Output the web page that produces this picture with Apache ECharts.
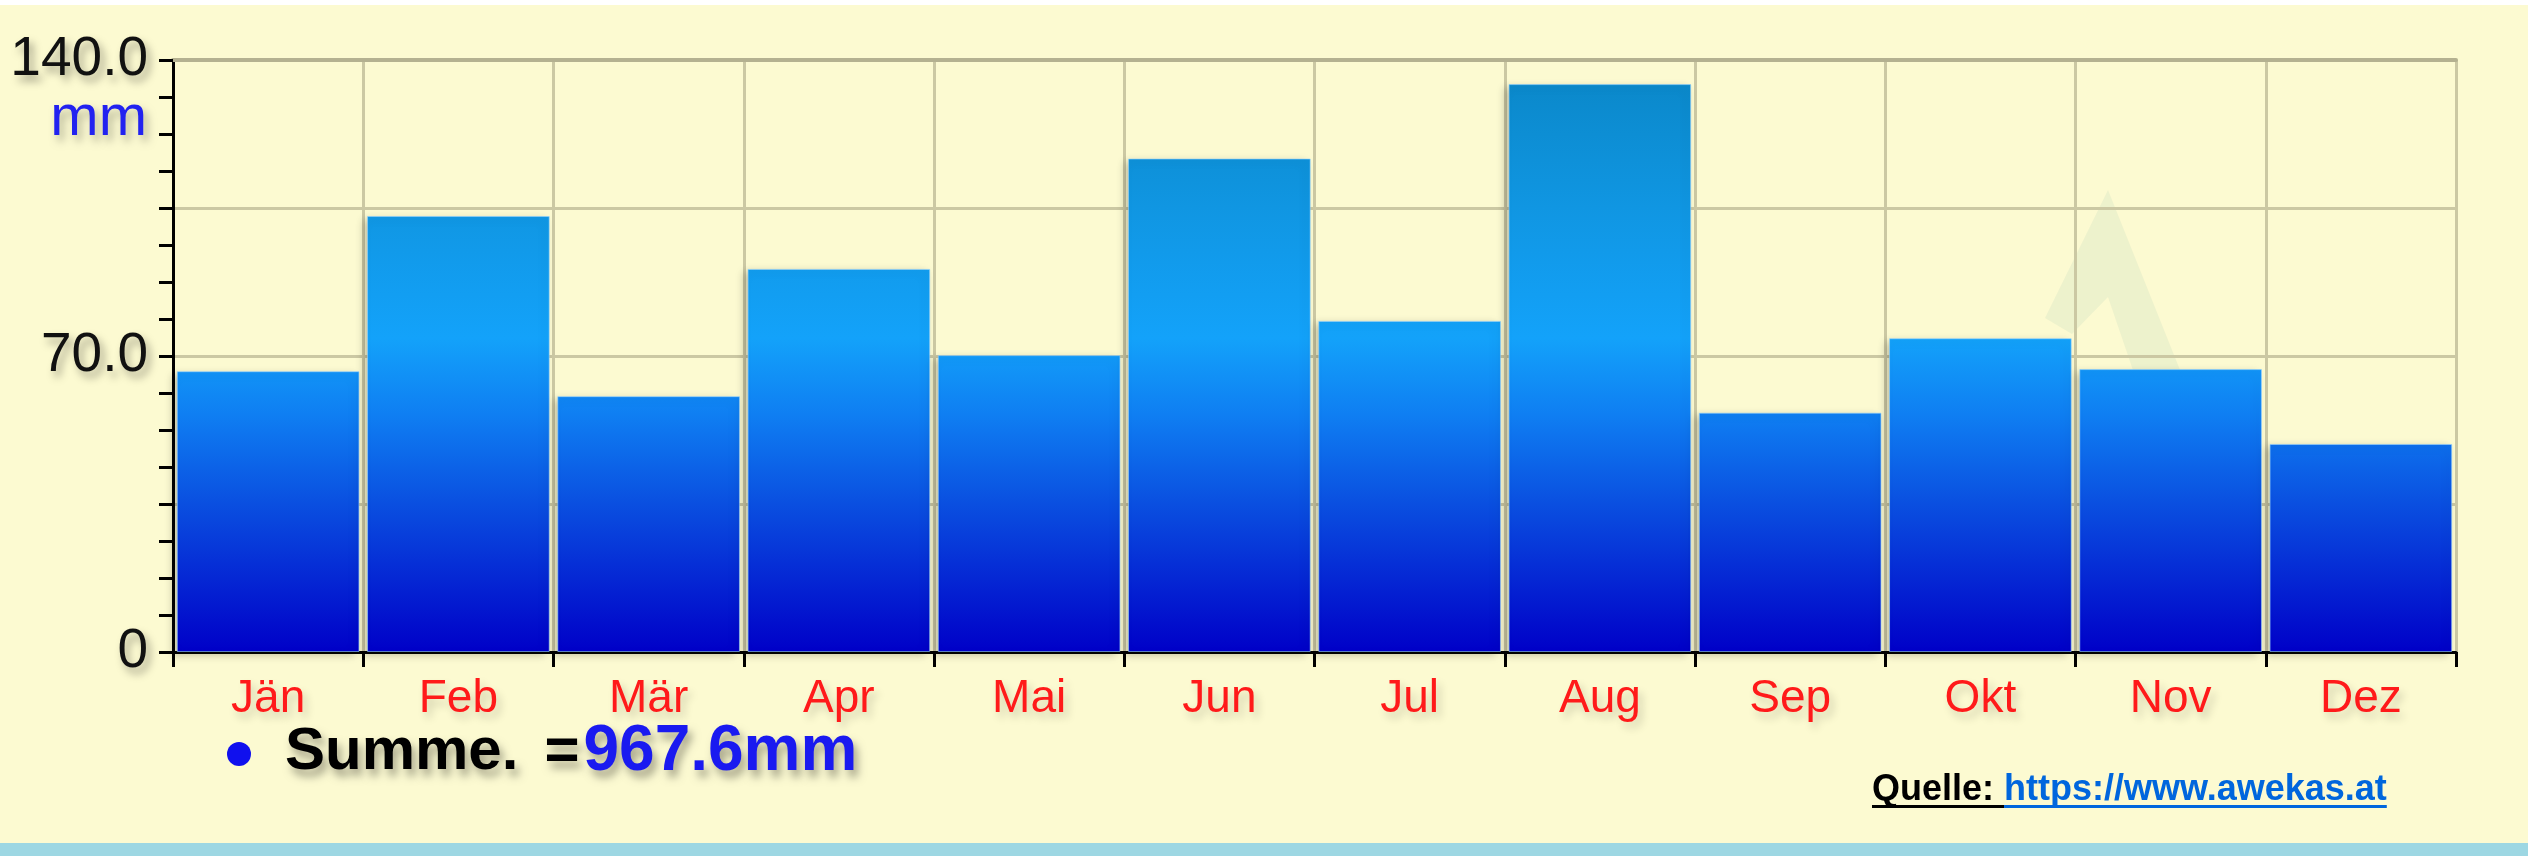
<!DOCTYPE html>
<html>
<head>
<meta charset="utf-8">
<script src="https://cdn.jsdelivr.net/npm/echarts@6/dist/echarts.min.js"></script>
<style>
html,body{margin:0;padding:0;background:#FCFAD1;}
#chart{width:2528px;height:856px;}
</style>
</head>
<body>
<div id="chart"></div>
<script>
// ---- data ----
const months = ['Jän','Feb','Mär','Apr','Mai','Jun','Jul','Aug','Sep','Okt','Nov','Dez'];
const precipitation = [66.4, 103.1, 60.5, 90.6, 70.2, 116.7, 78.3, 134.3, 56.6, 74.2, 66.9, 49.2];
const yLabels = {0: '0', 70: '70.0', 140: '140.0'};
const unitLabel = 'mm';
const sumLabel = 'Summe.';
const sumEq = '=';
const sumValue = '967.6mm';
const sourceLabel = 'Quelle: ';
const sourceUrl = 'https://www.awekas.at';

const chart = echarts.init(document.getElementById('chart'), null, {renderer: 'canvas'});
const FONT = '"Liberation Sans", Arial, Helvetica, sans-serif';
const shadow = {textShadowColor: 'rgba(0,0,0,0.35)', textShadowBlur: 8, textShadowOffsetX: 4, textShadowOffsetY: 6};

// measure source text for its underline
const mctx = document.createElement('canvas').getContext('2d');
const srcFont = 'bold 36px ' + FONT;
mctx.font = srcFont;
const wLabel = mctx.measureText(sourceLabel).width;
const wUrl = mctx.measureText(sourceUrl).width;
const srcX = 1872;

const barGradient = new echarts.graphic.LinearGradient(0, 60, 0, 652, [
  {offset: 0, color: '#0A86C6'},
  {offset: 0.25, color: '#1096E2'},
  {offset: 0.47, color: '#13A2FA'},
  {offset: 0.6, color: '#0F7EF2'},
  {offset: 0.75, color: '#0A4FE0'},
  {offset: 1, color: '#0000C8'}
], true);

const option = {
  backgroundColor: '#FCFAD1',
  animation: false,
  grid: {left: 173, right: 72, top: 60, bottom: 204},
  xAxis: [{
    type: 'category',
    data: months,
    axisLine: {show: true, lineStyle: {color: '#000', width: 3}},
    axisTick: {show: true, length: 15, lineStyle: {color: '#000', width: 3}},
    axisLabel: Object.assign({color: '#FF1A1A', fontSize: 46, fontFamily: FONT, margin: 24}, shadow, {textShadowColor: 'rgba(0,0,0,0.18)'}),
    splitLine: {show: true, lineStyle: {color: '#CBC8A3', width: 3}}
  }, {
    type: 'category',
    position: 'top',
    data: months,
    axisLine: {show: true, lineStyle: {color: '#B4B190', width: 4}},
    axisTick: {show: false},
    axisLabel: {show: false},
    splitLine: {show: false}
  }],
  yAxis: {
    type: 'value',
    min: 0, max: 140, interval: 35,
    axisLine: {show: true, lineStyle: {color: '#000', width: 3}},
    axisTick: {show: true, length: 14, lineStyle: {color: '#000', width: 3}},
    minorTick: {show: true, splitNumber: 4, length: 14, lineStyle: {color: '#000', width: 3}},
    axisLabel: Object.assign({
      color: '#111', fontSize: 55, fontFamily: FONT, margin: 25,
      formatter: v => (yLabels[v] !== undefined ? yLabels[v] : '')
    }, shadow),
    splitLine: {show: true, lineStyle: {color: '#CBC8A3', width: 3}}
  },
  series: [{
    type: 'bar',
    data: precipitation,
    barCategoryGap: '4%',
    itemStyle: {
      color: barGradient,
      borderColor: 'rgba(150,210,255,0.6)',
      borderWidth: 1,
      shadowColor: 'rgba(0,0,0,0.22)',
      shadowBlur: 8,
      shadowOffsetX: -4,
      shadowOffsetY: 3
    },
    z: 3
  }],
  graphic: [
    {type: 'rect', shape: {x: 0, y: 0, width: 2528, height: 5}, style: {fill: '#FFFFFF'}, z: 10},
    {type: 'rect', shape: {x: 0, y: 843, width: 2528, height: 13}, style: {fill: '#9DD7E3'}, z: 10},
    {type: 'polygon', z: -1, silent: true,
      shape: {points: [[2108,190],[2200,420],[2150,420],[2108,297],[2072,334],[2045,318]]},
      style: {fill: 'rgba(170,205,185,0.18)'}},
    {type: 'text', x: 147, y: 119, z: 10,
      style: {text: unitLabel, fill: '#2222F0', font: '58px ' + FONT, align: 'right', verticalAlign: 'middle',
        textShadowColor: 'rgba(0,0,0,0.3)', textShadowBlur: 8, textShadowOffsetX: 4, textShadowOffsetY: 6}},
    {type: 'circle', z: 10, shape: {cx: 239, cy: 754, r: 12}, style: {fill: '#1010EE'}},
    {type: 'text', x: 285, y: 752, z: 10,
      style: {
        text: '{a|' + sumLabel + '}{e|' + sumEq + '}{b|' + sumValue + '}',
        verticalAlign: 'middle',
        textShadowColor: 'rgba(0,0,0,0.35)', textShadowBlur: 8, textShadowOffsetX: 4, textShadowOffsetY: 7,
        rich: {
          a: {fill: '#000', font: 'bold 60px ' + FONT},
          e: {fill: '#000', font: 'bold 60px ' + FONT, padding: [0, 0, 0, 26]},
          b: {fill: '#1A1AF0', font: 'bold 64px ' + FONT, padding: [0, 0, 0, 4]}
        }
      }},
    {type: 'text', x: srcX, y: 790, z: 10,
      style: {
        text: '{q|' + sourceLabel + '}{u|' + sourceUrl + '}',
        verticalAlign: 'middle',
        rich: {
          q: {fill: '#000', font: srcFont},
          u: {fill: '#0066DD', font: srcFont}
        }
      }},
    {type: 'rect', z: 10, shape: {x: srcX, y: 805, width: wLabel, height: 3}, style: {fill: '#000'}},
    {type: 'rect', z: 10, shape: {x: srcX + wLabel, y: 805, width: wUrl, height: 3}, style: {fill: '#0066DD'}}
  ]
};
chart.setOption(option);
</script>
</body>
</html>
